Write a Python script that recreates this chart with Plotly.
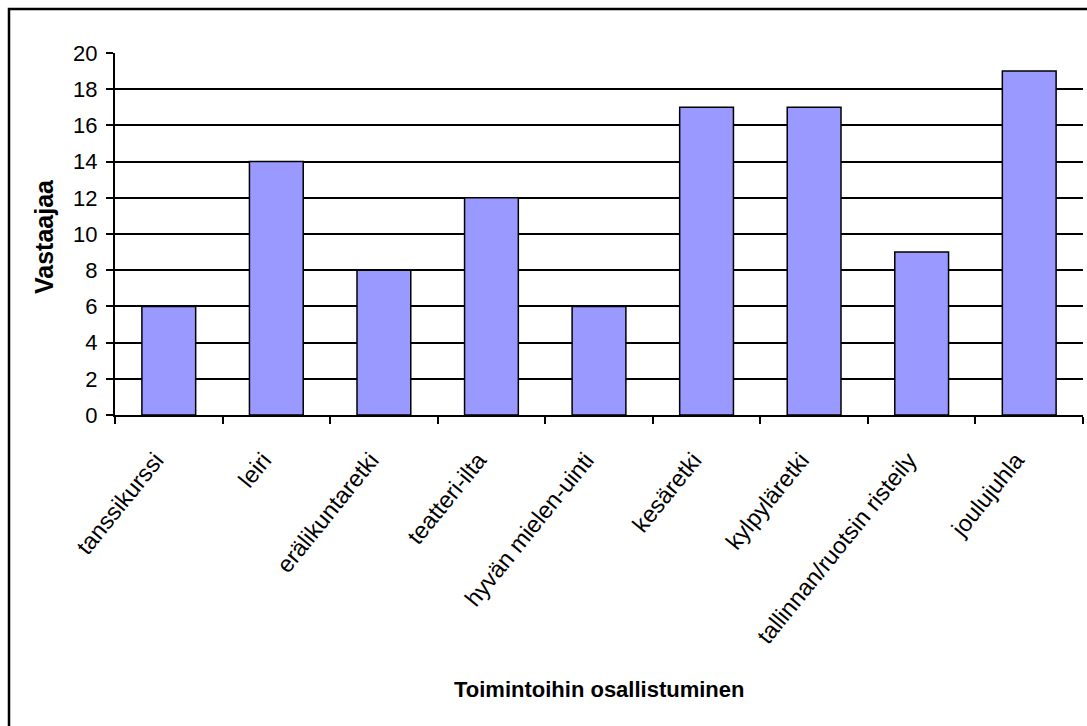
import plotly.graph_objects as go

# Activities and number of respondents who took part
categories = [
    "tanssikurssi",
    "leiri",
    "erälikuntaretki",
    "teatteri-ilta",
    "hyvän mielen-uinti",
    "kesäretki",
    "kylpyläretki",
    "tallinnan/ruotsin risteily",
    "joulujuhla",
]
respondents = [6, 14, 8, 12, 6, 17, 17, 9, 19]
y_ticks = [0, 2, 4, 6, 8, 10, 12, 14, 16, 18, 20]

FONT = "Liberation Sans, Arial, sans-serif"

W, H = 1087, 726
L, R, T, B = 115, 4, 53, 311
PW, PH = W - L - R, H - T - B

fig = go.Figure(
    go.Bar(
        x=categories,
        y=respondents,
        marker=dict(color="#9999FF", line=dict(color="black", width=1.5)),
        hoverinfo="x+y",
    )
)

fig.update_layout(
    width=W,
    height=H,
    margin=dict(l=L, r=R, t=T, b=B, autoexpand=False),
    paper_bgcolor="white",
    plot_bgcolor="white",
    bargap=0.5,
    showlegend=False,
    font=dict(family=FONT, color="black", size=22),
)

fig.update_xaxes(
    type="category",
    tickangle=-51,
    tickfont=dict(family=FONT, size=23.5),
    ticks="outside",
    tickson="boundaries",
    ticklen=7,
    tickwidth=1.5,
    tickcolor="black",
    ticklabelstandoff=20,
    ticklabelshift=-13,
    showline=True,
    linecolor="black",
    linewidth=2,
    showgrid=False,
    zeroline=False,
)

fig.update_yaxes(
    range=[0, 20],
    tickvals=y_ticks,
    ticktext=[str(v) for v in y_ticks],
    tickfont=dict(family=FONT, size=22),
    ticks="outside",
    ticklen=7,
    tickwidth=1.5,
    tickcolor="black",
    ticklabelstandoff=4,
    showline=True,
    linecolor="black",
    linewidth=2,
    showgrid=True,
    gridcolor="black",
    gridwidth=2,
    zeroline=False,
)

# Axis titles
fig.add_annotation(
    text="<b>Toimintoihin osallistuminen</b>",
    xref="paper", yref="paper",
    x=0.5, y=(T + PH - 689) / PH,
    xanchor="center", yanchor="middle",
    showarrow=False,
    font=dict(family=FONT, size=22, color="black"),
)
fig.add_annotation(
    text="<b>Vastaajaa</b>",
    xref="paper", yref="paper",
    x=(44 - L) / PW, y=(T + PH - 237) / PH,
    xanchor="center", yanchor="middle",
    textangle=-90,
    showarrow=False,
    font=dict(family=FONT, size=25, color="black"),
)

# Chart frame around the whole figure
fig.add_shape(
    type="rect",
    xref="paper", yref="paper",
    x0=(9 - L) / PW, x1=1.2,
    y0=-2.0, y1=1 + (T - 9) / PH,
    line=dict(color="black", width=2.5),
    fillcolor="rgba(0,0,0,0)",
    layer="below",
)

fig.write_html("out.html")
